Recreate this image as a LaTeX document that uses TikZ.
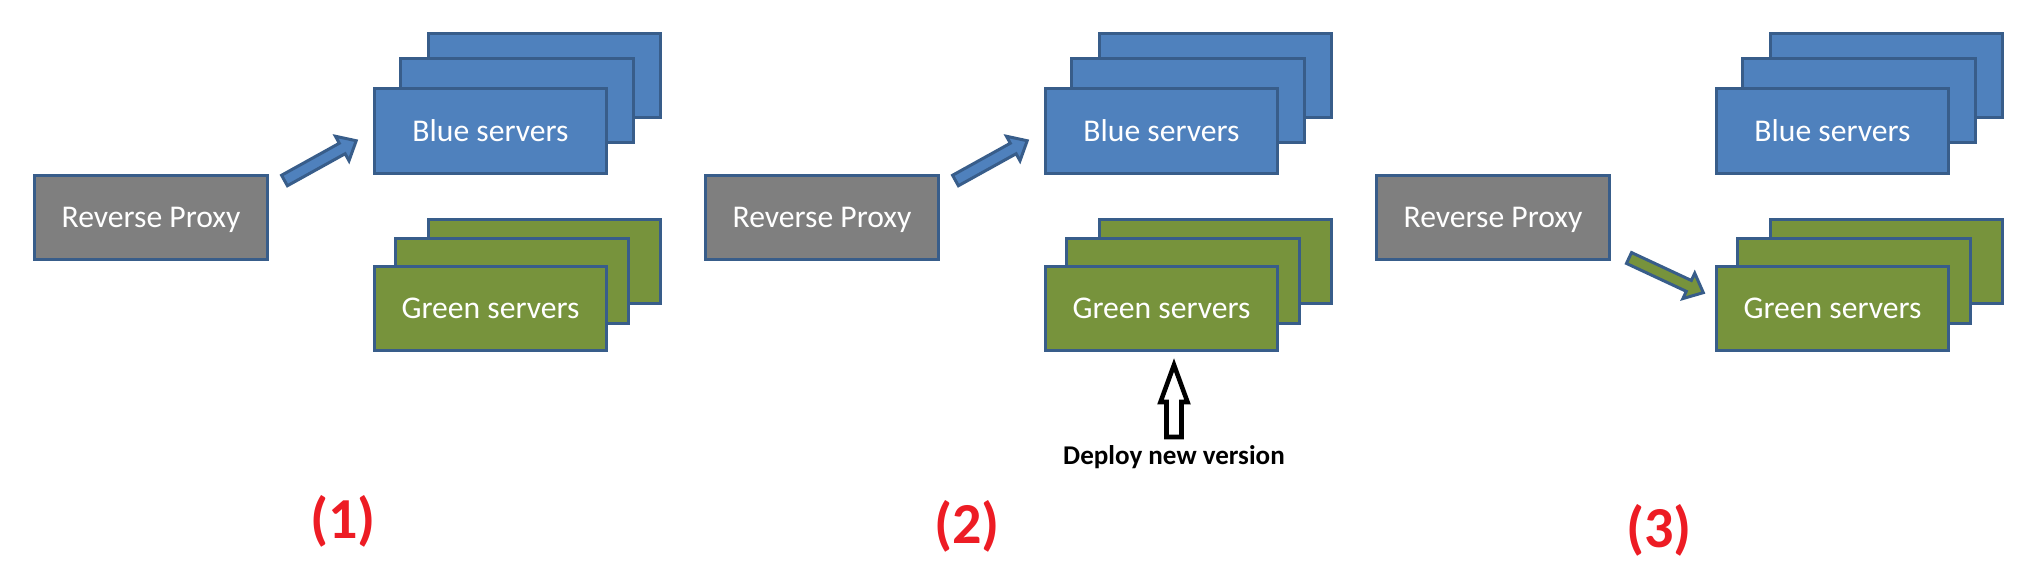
\documentclass[tikz,border=0pt]{standalone}
\usepackage{fontspec}
\setmainfont{Carlito}
\usetikzlibrary{positioning, calc}
\definecolor{proxygray}{RGB}{127,127,127}
\definecolor{serverblue}{RGB}{79,129,189}
\definecolor{servergreen}{RGB}{119,147,60}
\definecolor{edgeblue}{RGB}{56,93,138}
\definecolor{labelred}{RGB}{237,28,36}

\tikzset{
  srvbox/.style={rectangle, draw=edgeblue, line width=0.85pt, minimum width=2.32cm, minimum height=0.84cm,
    inner sep=0pt, text=white, font=\fontsize{9}{11}\selectfont, text height=5.7pt, text depth=0pt},
  proxybox/.style={srvbox, fill=proxygray, minimum width=2.33cm},
  bluebox/.style={srvbox, fill=serverblue},
  greenbox/.style={srvbox, fill=servergreen},
  steplabel/.style={text=labelred, font=\fontsize{16.5}{20}\selectfont\bfseries},
  deploylabel/.style={font=\fontsize{7.7}{9}\selectfont\bfseries},
}

% fat arrow: start coordinate, angle, fill
\newcommand{\fatarrow}[3]{%
  \draw[edgeblue, line width=0.85pt, line join=miter, fill=#3, shift={(#1)}, rotate=#2]
    (0,-6) -- (66,-6) -- (66,-14) -- (82,0) -- (66,14) -- (66,6) -- (0,6) -- cycle;}

\begin{document}
\begin{tikzpicture}[x=0.01cm, y=-0.01cm]
  \useasboundingbox (0,0) rectangle (2035,579);

  % Three stages
  \foreach \i/\dx/\lx/\ly in {1/0/343/521, 2/671/967/526, 3/1342/1659/530}{
    \begin{scope}[shift={(\dx,0)}]
      % Reverse proxy
      \node[proxybox] (proxy\i) at (151,217.5) {Reverse Proxy};
      % Blue stack
      \node[bluebox] (blueC\i) at (544.5,75.5) {};
      \node[bluebox] (blueB\i) at (517,100.5) {};
      \node[bluebox] (blue\i) at (490.5,131) {Blue servers};
      % Green stack
      \node[greenbox] (greenC\i) at (544.5,261.5) {};
      \node[greenbox] (greenB\i) at (512,281) {};
      \node[greenbox] (green\i) at (490.5,308.5) {Green servers};
    \end{scope}
    \node[steplabel] (step\i) at (\lx,\ly) {(\i)};
  }

  % Routing arrows
  \coordinate (go1) at (284.5,180.5);
  \coordinate (go2) at (955.5,180.5);
  \coordinate (go3) at (1629,258);
  \fatarrow{go1}{29}{serverblue}
  \fatarrow{go2}{29}{serverblue}
  \fatarrow{go3}{-25}{servergreen}

  % Deploy
  \node[deploylabel, anchor=base] (deploy) at (1174,465) {Deploy new version};
  \coordinate (up) at (1174,437);
  \draw[line width=1.3pt, fill=white, line join=miter, shift={(up)}]
    (-7.5,0) -- (-7.5,-35) -- (-13.5,-35) -- (0,-72) -- (13.5,-35) -- (7.5,-35) -- (7.5,0) -- cycle;
\end{tikzpicture}
\end{document}
